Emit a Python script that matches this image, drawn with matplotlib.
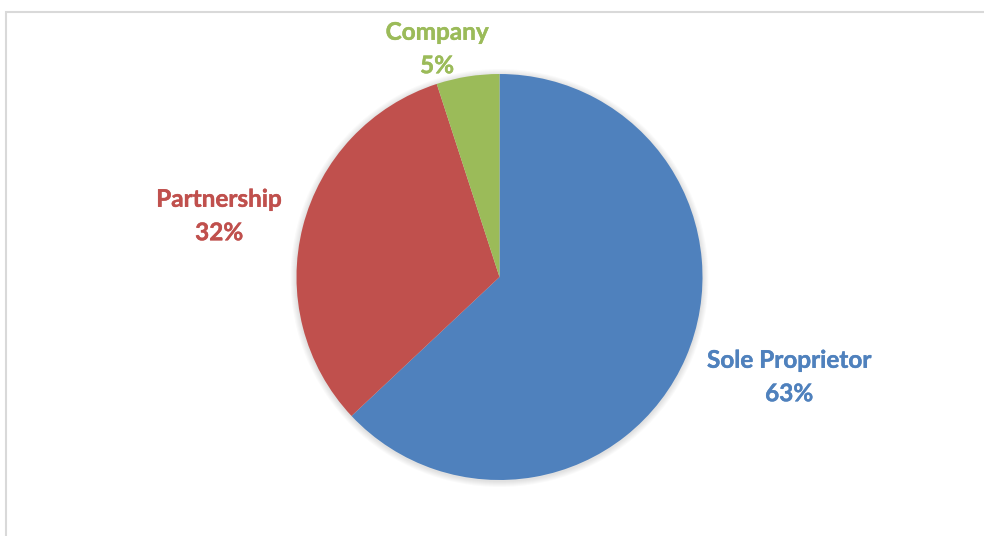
import matplotlib.pyplot as plt
import matplotlib.patheffects as pe
from matplotlib.patches import Circle, Rectangle

# business ownership split
labels = ["Sole Proprietor", "Partnership", "Company"]
shares = [63, 32, 5]
colors = ["#4F81BD", "#C0504D", "#9BBB59"]

# where each label block sits (pixel space, y measured from the bottom)
label_pos = [(789, 159), (219, 320), (437, 487)]

W, H = 984, 536
fig = plt.figure(figsize=(W / 100, H / 100), dpi=100)
ax = fig.add_axes([0, 0, 1, 1])
ax.set_xlim(0, W)
ax.set_ylim(0, H)
ax.set_aspect("equal")
ax.axis("off")

cx, cy, r = 499.5, 259, 203

# soft halo behind the pie
for i in range(1, 7):
    ax.add_patch(Circle((cx, cy - 1), r + i, color="#000000", alpha=0.018, lw=0, zorder=0))

ax.pie(shares, colors=colors, startangle=90, counterclock=False,
       center=(cx, cy), radius=r, frame=True,
       wedgeprops=dict(linewidth=0, zorder=1))
ax.set_xlim(0, W)
ax.set_ylim(0, H)
ax.axis("off")

for name, val, col, (x, y) in zip(labels, shares, colors, label_pos):
    ax.text(x, y, f"{name}\n{val}%", color=col, ha="center", va="center",
            fontsize=17.5, fontweight="bold", family="Lato", linespacing=1.55,
            path_effects=[pe.withStroke(linewidth=0.3, foreground=col)])

# chart area outline
fig.patches.append(Rectangle((5.5 / W, -0.1), 1.2, 1 - 11.5 / H + 0.1,
                             transform=fig.transFigure, fill=False,
                             edgecolor="#D9D9D9", linewidth=1.5))

fig.savefig("out.png", dpi=100)
